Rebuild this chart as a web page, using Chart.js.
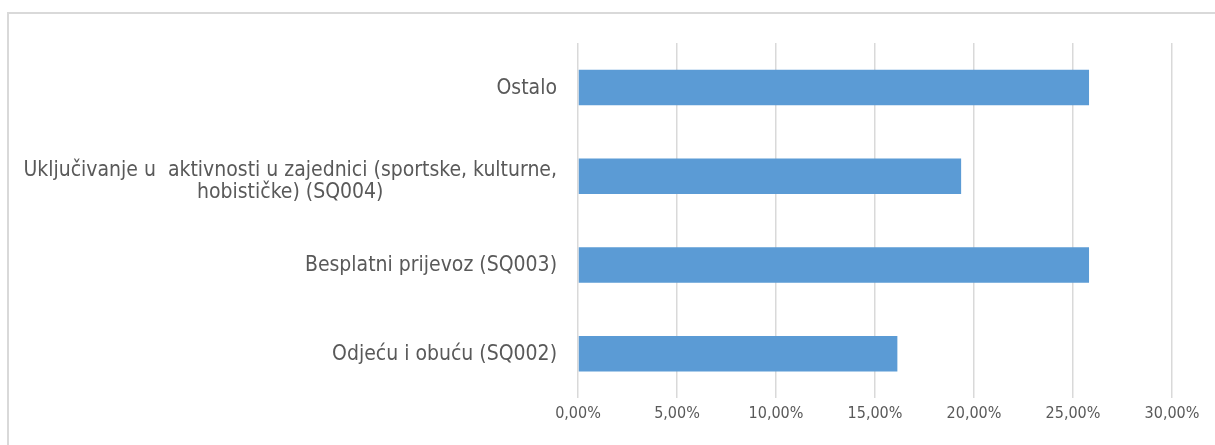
<!DOCTYPE html>
<html>
<head>
<meta charset="utf-8">
<script src="https://cdn.jsdelivr.net/npm/chart.js@4"></script>
<style>
  html, body { margin: 0; padding: 0; background: #fff; overflow: hidden; }
  #wrap { position: relative; width: 1215px; height: 445px; }
  #frame { position: absolute; left: 7px; top: 12px; width: 1300px; height: 500px;
           border-left: 2px solid #d9d9d9; border-top: 2px solid #d9d9d9; }
  canvas { position: absolute; left: 0; top: 0; }
</style>
</head>
<body>
<div id="wrap">
  <div id="frame"></div>
  <canvas id="chart" width="1215" height="445"></canvas>
</div>
<script>
// categories, top to bottom
const categories = [
    'Ostalo',
    ['Uključivanje u  aktivnosti u zajednici (sportske, kulturne,', 'hobističke) (SQ004)'],
    'Besplatni prijevoz (SQ003)',
    'Odjeću i obuću (SQ002)'
];
const values = [25.81, 19.35, 25.81, 16.13];
const axisMin = 0;
const axisMax = 30;
const axisStep = 5;

const textColor = '#595959';
const fontFamily = '"DejaVu Sans Condensed", "DejaVu Sans", sans-serif';

// Excel-style category labels: block right aligned, lines centered inside block
const categoryLabels = {
    id: 'categoryLabels',
    afterDraw(chart) {
        const ctx = chart.ctx;
        const y = chart.scales.y;
        const rightEdge = chart.chartArea.left - 21;
        const lineH = 22;
        ctx.save();
        ctx.font = '21px ' + fontFamily;
        ctx.fillStyle = textColor;
        ctx.textAlign = 'center';
        ctx.textBaseline = 'middle';
        categories.forEach((label, i) => {
            const lines = Array.isArray(label) ? label : [label];
            const maxW = Math.max(...lines.map(l => ctx.measureText(l).width));
            const cx = rightEdge - maxW / 2;
            const cy = y.getPixelForValue(i) + 1 + (lines.length - 1) * 4;
            lines.forEach((l, k) => {
                ctx.fillText(l, cx, cy + (k - (lines.length - 1) / 2) * lineH);
            });
        });
        ctx.restore();
    }
};

new Chart(document.getElementById('chart'), {
    type: 'bar',
    data: {
        labels: categories,
        datasets: [{
            data: values,
            backgroundColor: '#5b9bd5',
            categoryPercentage: 0.4,
            barPercentage: 1.0
        }]
    },
    options: {
        indexAxis: 'y',
        responsive: false,
        animation: false,
        layout: { padding: { top: 43, right: 43, left: 0, bottom: 0 } },
        plugins: { legend: { display: false }, tooltip: { enabled: false } },
        scales: {
            x: {
                min: axisMin,
                max: axisMax,
                grid: { color: '#d9d9d9', lineWidth: 1.5, drawTicks: false },
                border: { display: false },
                ticks: {
                    stepSize: axisStep,
                    padding: 6,
                    color: textColor,
                    font: { family: fontFamily, size: 16 },
                    callback: v => v.toFixed(2).replace('.', ',') + '%'
                },
                afterFit: s => { s.height = 47; }
            },
            y: {
                grid: { display: false },
                border: { display: false },
                ticks: { display: false },
                afterFit: s => { s.width = 578; }
            }
        }
    },
    plugins: [categoryLabels]
});
</script>
</body>
</html>
